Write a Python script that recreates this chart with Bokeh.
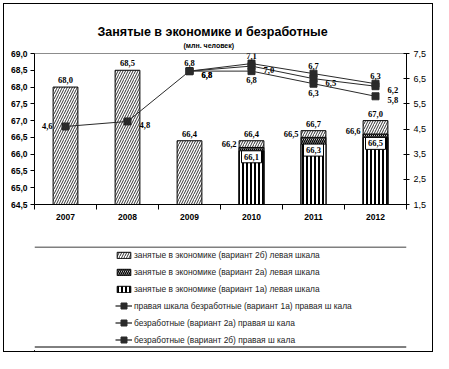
from bokeh.plotting import figure
from bokeh.layouts import column
from bokeh.models import (Range1d, LinearAxis, FixedTicker, LabelSet, ColumnDataSource,
                          Legend, LegendItem, Title, Span)
from bokeh.embed import file_html
from bokeh.resources import INLINE

# ---------------- data ----------------
years = ["2007", "2008", "2009", "2010", "2011", "2012"]
emp_2b = [68.0, 68.5, 66.4, 66.4, 66.7, 67.0]      # занятые, вариант 2б
emp_2a = [None, None, None, 66.2, 66.5, 66.6]      # занятые, вариант 2а
emp_1a = [None, None, None, 66.1, 66.3, 66.5]      # занятые, вариант 1а
unemp_1a = [None, None, 6.8, 7.1, 6.7, 6.3]        # безработные, вариант 1а
unemp_2a = [None, None, 6.8, 7.0, 6.5, 6.2]        # безработные, вариант 2а
unemp_2b = [4.6, 4.8, 6.8, 6.8, 6.3, 5.8]          # безработные, вариант 2б
left_ticks = [64.5, 65.0, 65.5, 66.0, 66.5, 67.0, 67.5, 68.0, 68.5, 69.0]
right_ticks = [1.5, 2.5, 3.5, 4.5, 5.5, 6.5, 7.5]

title_text = "Занятые в экономике и безработные"
subtitle_text = "(млн. человек)"
legend_labels = [
    "занятые в экономике (вариант 2б) левая шкала",
    "занятые в экономике (вариант 2а) левая шкала",
    "занятые в экономике (вариант 1а) левая шкала",
    "правая шкала безработные (вариант 1а) правая ш кала",
    "безработные (вариант 2а) правая ш кала",
    "безработные (вариант 2б) правая ш кала",
]

FONT = "Liberation Sans"
W = 428          # inner width of the framed area
H_CHART = 242
H_LEG = 105
MB_TOP, MB_BOTTOM = 49, 42
Y0, Y1 = 64.5, 69.0


def fmt(v):
    return f"{v:.1f}".replace(".", ",")


xs = list(range(len(years)))

p = figure(width=W, height=H_CHART, x_range=Range1d(-0.5, 5.5), y_range=Range1d(Y0, Y1),
           output_backend="svg", toolbar_location=None,
           min_border_left=30, min_border_right=26, min_border_top=MB_TOP,
           min_border_bottom=MB_BOTTOM)
p.extra_y_ranges = {"right": Range1d(1.5, 7.5)}
p.xgrid.visible = False
p.ygrid.visible = False
p.outline_line_color = "#8c8c8c"
p.background_fill_color = "white"
p.border_fill_color = "white"

# titles
p.title.text = title_text
p.title.align = "left"
p.title.offset = 63
p.title.text_font = FONT
p.title.text_font_size = "12.5px"
p.title.text_font_style = "bold"
p.title.text_color = "black"
p.title.standoff = 2
sub = Title(text=subtitle_text, align="left", offset=149, text_font=FONT,
            text_font_size="7px", text_font_style="bold", text_color="black", standoff=5,
            vertical_align="top")
p.add_layout(sub, "above")

# x axis
xa = p.xaxis[0]
xa.ticker = FixedTicker(ticks=xs, minor_ticks=[i - 0.5 for i in range(len(years) + 1)])
xa.major_label_overrides = {i: y for i, y in enumerate(years)}
xa.major_tick_line_color = None
xa.major_tick_out = 0
xa.major_tick_in = 0
xa.minor_tick_line_color = "black"
xa.minor_tick_out = 5
xa.minor_tick_in = 0
xa.axis_line_color = "black"
xa.major_label_standoff = 4
xa.major_label_text_font = FONT
xa.major_label_text_font_style = "bold"
xa.major_label_text_font_size = "8.5px"
xa.major_label_text_color = "black"

# left axis
ya = p.yaxis[0]
ya.ticker = FixedTicker(ticks=left_ticks)
ya.major_label_overrides = {t: fmt(t) for t in left_ticks}
ya.minor_tick_line_color = None
ya.major_tick_out = 4
ya.major_tick_in = 0
ya.major_label_standoff = 3
ya.axis_line_color = "black"
ya.major_label_text_font = FONT
ya.major_label_text_font_style = "bold"
ya.major_label_text_font_size = "8.5px"
ya.major_label_text_color = "black"

# right axis
ra = LinearAxis(y_range_name="right", ticker=FixedTicker(ticks=right_ticks))
ra.major_label_overrides = {t: fmt(t) for t in right_ticks}
ra.minor_tick_line_color = None
ra.major_tick_out = 3
ra.major_tick_in = 3
ra.major_label_standoff = 4
ra.axis_line_color = "black"
ra.major_label_text_font = FONT
ra.major_label_text_font_size = "9px"
ra.major_label_text_color = "black"
p.add_layout(ra, "right")

# ---------------- bars ----------------
BW = 0.4
bar_styles = [
    dict(hatch_pattern="/", hatch_scale=5, hatch_weight=0.8),
    dict(hatch_pattern="\\", hatch_scale=4, hatch_weight=1.4),
    dict(hatch_pattern="|", hatch_scale=4, hatch_weight=2),
]


def bar_src(vals):
    idx = [i for i, v in enumerate(vals) if v is not None]
    return ColumnDataSource(dict(x=[xs[i] for i in idx], top=[vals[i] for i in idx],
                                 t=[fmt(vals[i]) for i in idx]))


s2b = bar_src(emp_2b)
s2a = bar_src(emp_2a)
s1a = bar_src(emp_1a)
for src, st in zip([s2b, s2a, s1a], bar_styles):
    p.vbar(x="x", top="top", bottom=Y0, width=BW, source=src, fill_color="white",
           line_color="black", line_width=1, hatch_color="black", **st)

lab_kw = dict(text_font=FONT, text_font_style="bold", text_font_size="8.5px", text_color="black")
p.add_layout(LabelSet(x="x", y="top", text="t", source=s2b, y_offset=4,
                      text_align="center", text_baseline="bottom", **lab_kw))
p.add_layout(LabelSet(x="x", y="top", text="t", source=s2a, x_offset=-15, y_offset=3,
                      text_align="right", text_baseline="middle", **lab_kw))

# white boxed labels inside the 1а bars (box top at the bar top)
px_per_unit = (H_CHART - MB_TOP - MB_BOTTOM) / (Y1 - Y0)
BOX_H = 12
s1a.data["yc"] = [v - (BOX_H / 2) / px_per_unit for v in s1a.data["top"]]
p.rect(x="x", y="yc", width=20, height=BOX_H, width_units="screen", height_units="screen",
       source=s1a, fill_color="white", line_color="black", line_width=1)
p.add_layout(LabelSet(x="x", y="yc", text="t", source=s1a,
                      text_align="center", text_baseline="middle", **lab_kw))

# ---------------- lines ----------------
LINE_COLOR = "#2a2a2a"
line_series = [unemp_1a, unemp_2a, unemp_2b]
for vals in line_series:
    ys = [float("nan") if v is None else v for v in vals]
    p.line(xs, ys, y_range_name="right", line_color=LINE_COLOR, line_width=1)
    idx = [i for i, v in enumerate(vals) if v is not None]
    p.scatter([xs[i] for i in idx], [vals[i] for i in idx], y_range_name="right",
              marker="square", size=7, fill_color=LINE_COLOR, line_color=LINE_COLOR)

placements = [
    ["above"] * 6,
    ["right"] * 6,
    ["left", "right", "right", "below", "below", "right"],
]
place_style = {
    "above": dict(x_offset=0, y_offset=5, text_align="center", text_baseline="bottom"),
    "below": dict(x_offset=0, y_offset=-6, text_align="center", text_baseline="top"),
    "right": dict(x_offset=12, y_offset=-4, text_align="left", text_baseline="middle"),
    "left": dict(x_offset=-13, y_offset=0, text_align="right", text_baseline="middle"),
}
for vals, places in zip(line_series, placements):
    for pl, st in place_style.items():
        idx = [i for i, v in enumerate(vals) if v is not None and places[i] == pl]
        if not idx:
            continue
        src = ColumnDataSource(dict(x=[xs[i] for i in idx], y=[vals[i] for i in idx],
                                    t=[fmt(vals[i]) for i in idx]))
        p.add_layout(LabelSet(x="x", y="y", text="t", source=src, y_range_name="right",
                              **st, **lab_kw))

# ---------------- legend panel ----------------
pl_ = figure(width=W, height=H_LEG, x_range=Range1d(0, W), y_range=Range1d(0, H_LEG),
             output_backend="svg", toolbar_location=None,
             x_axis_location=None, y_axis_location=None, min_border=0)
pl_.xgrid.visible = False
pl_.ygrid.visible = False
pl_.outline_line_color = None
pl_.border_fill_color = "white"
pl_.background_fill_color = "white"

bar_items = []
for lab, st in zip(legend_labels[:3], bar_styles):
    r = pl_.vbar(x=[-1000], top=[1], bottom=0, width=1, fill_color="white",
                 line_color="black", line_width=1, hatch_color="black", **st)
    bar_items.append(LegendItem(label=lab, renderers=[r]))
line_items = []
for lab in legend_labels[3:]:
    rl = pl_.line([-1000, -999], [1, 1], line_color=LINE_COLOR, line_width=1.3)
    rs = pl_.scatter([-1000], [1], marker="square", size=6, fill_color=LINE_COLOR,
                     line_color=LINE_COLOR)
    line_items.append(LegendItem(label=lab, renderers=[rl, rs]))


def make_legend(items, loc, glyph_h, spacing):
    lg = Legend(items=items, location=loc, orientation="vertical")
    lg.label_text_font = FONT
    lg.label_text_font_size = "8.4px"
    lg.label_text_color = "#222222"
    lg.glyph_width = 17
    lg.glyph_height = glyph_h
    lg.label_height = 10
    lg.label_standoff = 2
    lg.spacing = spacing
    lg.padding = 0
    lg.margin = 0
    lg.border_line_color = None
    lg.background_fill_alpha = 0
    return lg


pl_.add_layout(make_legend(bar_items, (81, 57), 8, 7))
pl_.add_layout(make_legend(line_items, (81, 4), 15, 2))

pl_.add_layout(Span(location=H_LEG - 0.5, dimension="width", line_color="black", line_width=1))
pl_.add_layout(Span(location=H_LEG - 100.5, dimension="width", line_color="black", line_width=1))

layout = column(p, pl_, spacing=0, margin=(3, 0, 0, 3),
                styles={"border": "1px solid black"})

open("out.html", "w").write(file_html(layout, INLINE))
